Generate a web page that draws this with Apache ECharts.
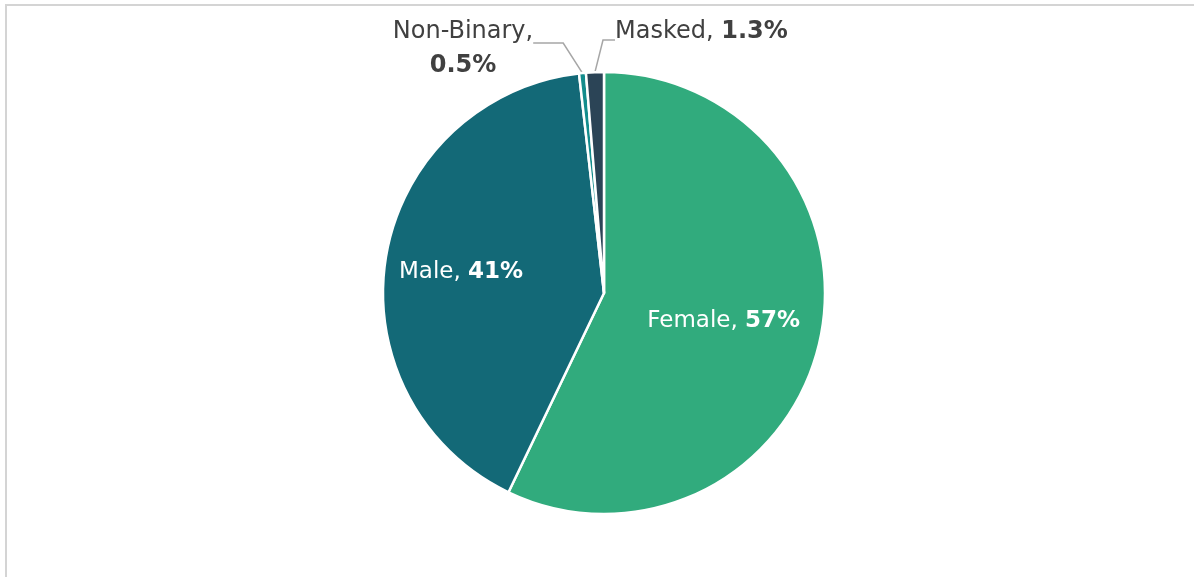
<!DOCTYPE html>
<html>
<head>
<meta charset="utf-8">
<script src="https://cdn.jsdelivr.net/npm/echarts@6/dist/echarts.min.js"></script>
<style>
  html, body { margin: 0; padding: 0; background: #ffffff; }
  #chart { width: 1194px; height: 577px; }
</style>
</head>
<body>
<div id="chart"></div>
<script>
// Gender breakdown shares (percent)
const categories = ['Female', 'Male', 'Non-Binary', 'Masked'];
const shares = [57, 41, 0.5, 1.3];
const sliceColors = ['#31AB7D', '#136977', '#138C8C', '#2B4456'];

const FONT = '"DejaVu Sans", "Noto Sans", sans-serif';
const FS_IN = 23;
const FS_OUT = 24;

const chart = echarts.init(document.getElementById('chart'), null, { renderer: 'canvas' });

const outerRich = {
  n: { color: '#404040', fontSize: FS_OUT, fontFamily: FONT, fontWeight: 'normal', lineHeight: 34 },
  v: { color: '#404040', fontSize: FS_OUT, fontFamily: FONT, fontWeight: 'bold', lineHeight: 34 },
  top: { fontSize: 4, lineHeight: 10 },
  bot: { fontSize: 4, lineHeight: 18 }
};

// Small spacer lines shift where the leader line meets each outside label
const outerFormat = {
  'Non-Binary': '{top| }\n{n|{b},}\n{v|{c}%}',
  'Masked': '{n|{b}, }{v|{c}%}\n{bot| }'
};

const pieData = categories.map((name, i) => {
  const inside = i < 2;
  return {
    name: name,
    value: shares[i],
    itemStyle: { color: sliceColors[i] },
    label: inside ? {
      position: 'inside',
      color: '#ffffff',
      formatter: '{n|{b}, }{v|{c}%}',
      rich: {
        n: { color: '#ffffff', fontSize: FS_IN, fontFamily: FONT, fontWeight: 'normal' },
        v: { color: '#ffffff', fontSize: FS_IN, fontFamily: FONT, fontWeight: 'bold' }
      }
    } : {
      position: 'outside',
      formatter: outerFormat[name],
      align: name === 'Non-Binary' ? 'center' : 'left',
      rich: outerRich
    },
    labelLine: inside ? { show: false } : { show: true, length2: name === 'Non-Binary' ? 30 : 12 }
  };
});

const option = {
  backgroundColor: '#ffffff',
  animation: false,
  graphic: [{
    type: 'polyline',
    shape: { points: [[1300, 5], [6, 5], [6, 700]] },
    style: { fill: 'none', stroke: '#d4d4d4', lineWidth: 2 },
    silent: true
  }],
  series: [{
    type: 'pie',
    center: [604, 293],
    radius: 221,
    startAngle: 90,
    clockwise: true,
    avoidLabelOverlap: false,
    itemStyle: { borderColor: '#ffffff', borderWidth: 2.5 },
    labelLine: {
      length: 20,
      length2: 18,
      smooth: false,
      lineStyle: { color: '#a6a6a6', width: 1.5 }
    },
    labelLayout: function (p) {
      if (p.dataIndex === 0) return { dx: 9, dy: 3 };
      if (p.dataIndex === 1) return { dx: -31, dy: -2 };
      if (p.dataIndex === 2) return { x: 463, y: 44, align: 'center', verticalAlign: 'middle' };
      if (p.dataIndex === 3) return { x: 615, y: 41, align: 'left', verticalAlign: 'middle' };
      return {};
    },
    data: pieData
  }]
};

chart.setOption(option);
</script>
</body>
</html>
